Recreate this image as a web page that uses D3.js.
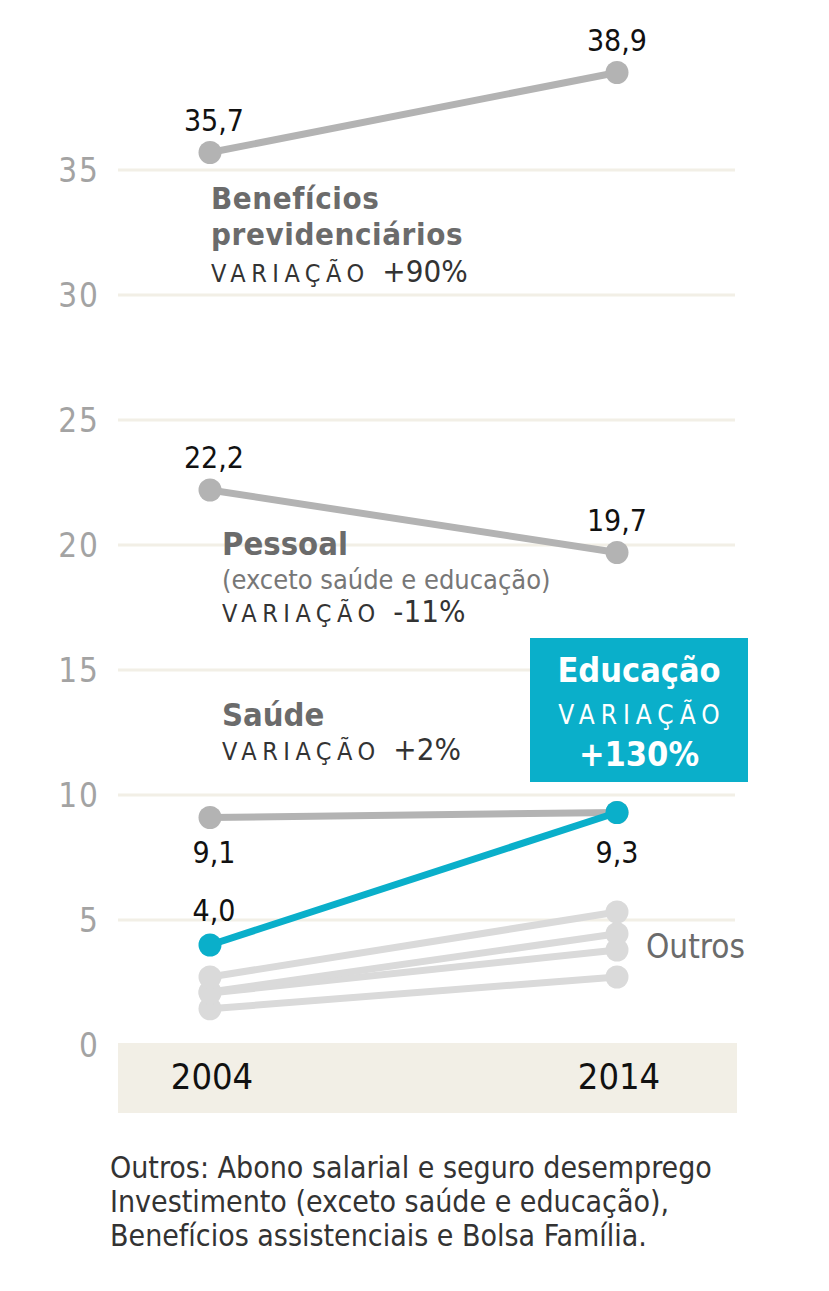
<!DOCTYPE html>
<html><head><meta charset="utf-8">
<script src="https://cdn.jsdelivr.net/npm/d3@7"></script>
<style>
body{margin:0;background:#fff;}
svg{display:block;font-family:"Liberation Sans Narrow","DejaVu Sans Condensed","Roboto",sans-serif;}
</style></head>
<body><svg id="c" width="829" height="1291"></svg>
<script>
const years = [2004, 2014];
const yTicks = [0, 5, 10, 15, 20, 25, 30, 35];
const beneficios = [35.7, 38.9];
const pessoal = [22.2, 19.7];
const saude = [9.1, 9.3];
const educacao = [4.0, 9.3];
const outros1 = [2.72, 5.32];
const outros2 = [2.12, 4.45];
const outros3 = [2.08, 3.8];
const outros4 = [1.45, 2.72];
const footnote = ["Outros: Abono salarial e seguro desemprego","Investimento (exceto saúde e educação),","Benefícios assistenciais e Bolsa Família."];

const svg = d3.select("#c");
const x = d3.scalePoint().domain(years).range([210, 617]);
const y = d3.scaleLinear().domain([0, 40]).range([1045, 45]);

// bottom band
svg.append("rect").attr("x",118).attr("y",y(0)-2).attr("width",619).attr("height",70).attr("fill","#f2efe6");
// grid
svg.selectAll(".g").data(yTicks.filter(d=>d>0)).enter().append("line")
  .attr("x1",118).attr("x2",735).attr("y1",d=>y(d)).attr("y2",d=>y(d))
  .attr("stroke","#f2efe6").attr("stroke-width",3);
// y tick labels
svg.selectAll(".t").data(yTicks).enter().append("text")
  .attr("x",100).attr("y",d=>y(d)+12).attr("text-anchor","end").attr("letter-spacing",2)
  .attr("font-size",33).attr("fill","#a3a3a3").text(d=>d);
// year labels
svg.selectAll(".yr").data(years).enter().append("text")
  .attr("x",d=>x(d)+2).attr("y",1089).attr("text-anchor","middle")
  .attr("font-size",36).attr("fill","#111").text(d=>d);

const line = d3.line().x((d,i)=>x(years[i])).y(d=>y(d));
function series(vals,color){
  svg.append("path").attr("d",line(vals)).attr("fill","none").attr("stroke",color).attr("stroke-width",7);
  svg.selectAll(null).data(vals).enter().append("circle")
    .attr("cx",(d,i)=>x(years[i])).attr("cy",d=>y(d)).attr("r",11.5).attr("fill",color);
}
[outros4,outros3,outros2,outros1].forEach(s=>series(s,"#dadada"));
series(beneficios,"#b3b3b3");
series(pessoal,"#b3b3b3");
series(saude,"#b3b3b3");
series(educacao,"#0aafca");

// value labels
function val(v,i,dy){
  svg.append("text").attr("x",x(years[i])+(i===0?4:0)).attr("y",y(v)+dy).attr("text-anchor","middle")
    .attr("font-size",30).attr("fill","#111").text(d3.format(".1f")(v).replace(".",","));
}
val(beneficios[0],0,-22); val(beneficios[1],1,-22);
val(pessoal[0],0,-22); val(pessoal[1],1,-22);
val(saude[0],0,45); val(saude[1],1,50);
val(educacao[0],0,-24);

// series labels
function lab(xp,yp,txt,opt){
  const t=svg.append("text").attr("x",xp).attr("y",yp).attr("font-size",opt.size).attr("fill",opt.fill)
    .attr("font-weight",opt.bold?"bold":"normal").text(txt);
  if(opt.ls) t.attr("letter-spacing",opt.ls);
  if(opt.anchor) t.attr("text-anchor",opt.anchor);
  return t;
}
function variacao(xp,yp,pct){
  const t=svg.append("text").attr("x",xp).attr("y",yp).attr("fill","#333");
  t.append("tspan").attr("font-size",25).attr("letter-spacing",5.5).text("VARIAÇÃO ");
  t.append("tspan").attr("font-size",31).attr("letter-spacing",0).text(pct);
}
const H={size:32.5,fill:"#6b6b6b",bold:true};
const H2={size:31,fill:"#6b6b6b",bold:true,ls:0.6};
lab(211,209,"Benefícios",H2);
lab(211,245,"previdenciários",H2);
variacao(211,282,"+90%");
lab(222,555,"Pessoal",H);
lab(222,589,"(exceto saúde e educação)",{size:27,fill:"#777"});
variacao(222,622,"-11%");
lab(222,726,"Saúde",H);
variacao(222,760,"+2%");
lab(646,958,"Outros",{size:33,fill:"#6b6b6b"});

// education box
svg.append("rect").attr("x",530).attr("y",638).attr("width",218).attr("height",144).attr("fill","#0aafca");
lab(639,682,"Educação",{size:34,fill:"#fff",bold:true,anchor:"middle"});
lab(642,724,"VARIAÇÃO",{size:26,fill:"#fff",ls:6,anchor:"middle"});
lab(639,766,"+130%",{size:34,fill:"#fff",bold:true,anchor:"middle"});

// footnote
svg.selectAll(".f").data(footnote).enter().append("text")
  .attr("x",110).attr("y",(d,i)=>1178+i*34).attr("font-size",30).attr("fill","#333").text(d=>d);
</script></body></html>
